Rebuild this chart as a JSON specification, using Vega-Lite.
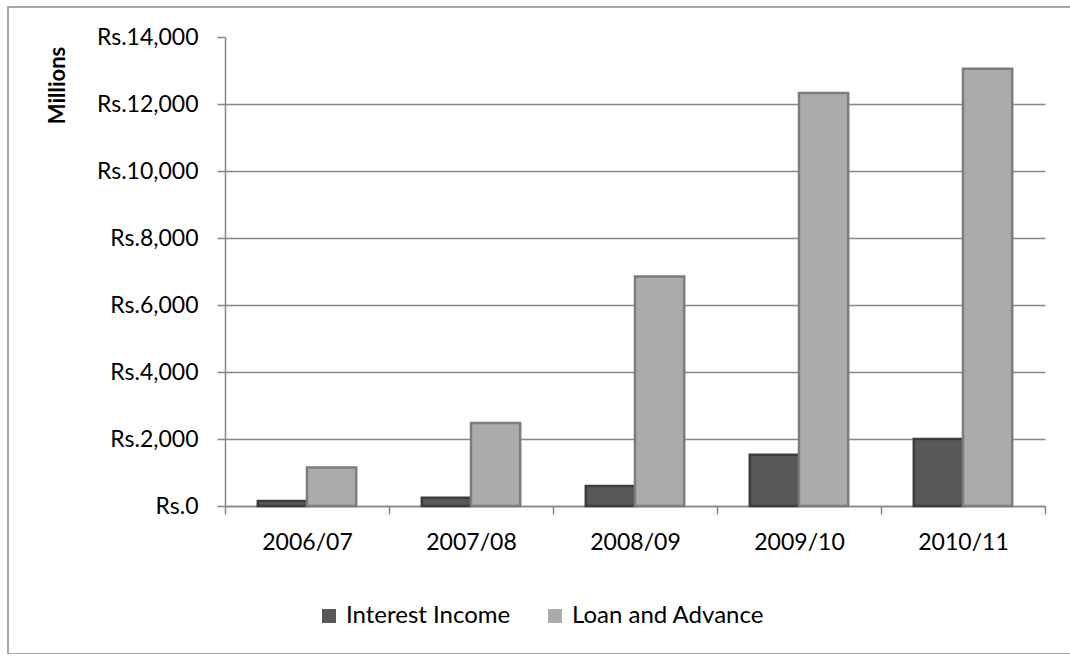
{
  "$schema": "https://vega.github.io/schema/vega-lite/v6.json",
  "width": 1065,
  "height": 647,
  "autosize": {"type": "none"},
  "padding": {"left": 8, "top": 7, "right": 0, "bottom": 0},
  "background": "white",
  "config": {
    "view": {"stroke": "#8c8c8c", "strokeWidth": 1.5},
    "font": "Lato"
  },
  "data": {
    "values": [
      {"year": "2006/07", "series": "Interest Income", "value": 150},
      {"year": "2006/07", "series": "Loan and Advance", "value": 1150},
      {"year": "2007/08", "series": "Interest Income", "value": 250},
      {"year": "2007/08", "series": "Loan and Advance", "value": 2480},
      {"year": "2008/09", "series": "Interest Income", "value": 600},
      {"year": "2008/09", "series": "Loan and Advance", "value": 6850},
      {"year": "2009/10", "series": "Interest Income", "value": 1530},
      {"year": "2009/10", "series": "Loan and Advance", "value": 12330},
      {"year": "2010/11", "series": "Interest Income", "value": 2000},
      {"year": "2010/11", "series": "Loan and Advance", "value": 13050}
    ]
  },
  "mark": {"type": "bar", "strokeWidth": 2.5},
  "encoding": {
    "x": {
      "field": "year",
      "type": "nominal",
      "sort": null,
      "scale": {"range": [217, 1037], "paddingInner": 0, "paddingOuter": 0},
      "axis": {
        "title": null,
        "offset": -148,
        "tickBand": "extent",
        "tickSize": 8,
        "tickColor": "#868686",
        "domainColor": "#868686",
        "domainWidth": 1.5,
        "tickWidth": 1.5,
        "labelAngle": 0,
        "labelFontSize": 23,
        "labelColor": "black",
        "labelPadding": 17,
        "grid": false
      }
    },
    "xOffset": {
      "field": "series",
      "sort": ["Interest Income", "Loan and Advance"],
      "scale": {"paddingInner": 0, "paddingOuter": 0.667}
    },
    "y": {
      "field": "value",
      "type": "quantitative",
      "scale": {"domain": [0, 14000], "range": [499, 30], "nice": false, "zero": true},
      "axis": {
        "title": "Millions",
        "titleFontWeight": "bold",
        "titleFontSize": 22,
        "titleColor": "black",
        "titleAngle": 270,
        "titleX": -168,
        "titleY": 78,
        "titleAlign": "center",
        "titleBaseline": "middle",
        "offset": -217,
        "values": [0, 2000, 4000, 6000, 8000, 10000, 12000, 14000],
        "labelExpr": "'Rs.' + format(datum.value, ',')",
        "labelFontSize": 23,
        "labelColor": "black",
        "labelPadding": 19,
        "tickSize": 8,
        "tickColor": "#868686",
        "tickWidth": 1.5,
        "domainColor": "#868686",
        "domainWidth": 1.5,
        "grid": true,
        "gridColor": "#868686",
        "gridWidth": 1.5,
        "gridOpacity": {"condition": {"test": "datum.value === 14000", "value": 0}, "value": 1}
      }
    },
    "color": {
      "field": "series",
      "type": "nominal",
      "scale": {"domain": ["Interest Income", "Loan and Advance"], "range": ["#585858", "#ababab"]},
      "legend": {
        "title": null,
        "orient": "none",
        "legendX": 309,
        "legendY": 597,
        "direction": "horizontal",
        "symbolType": "square",
        "symbolSize": 196,
        "symbolStrokeWidth": 0,
        "labelFontSize": 24,
        "labelColor": "black",
        "labelOffset": 5,
        "labelLimit": 400,
        "columnPadding": 32
      }
    },
    "stroke": {
      "field": "series",
      "type": "nominal",
      "scale": {"domain": ["Interest Income", "Loan and Advance"], "range": ["#3c3c3c", "#7c7c7c"]},
      "legend": null
    }
  }
}
